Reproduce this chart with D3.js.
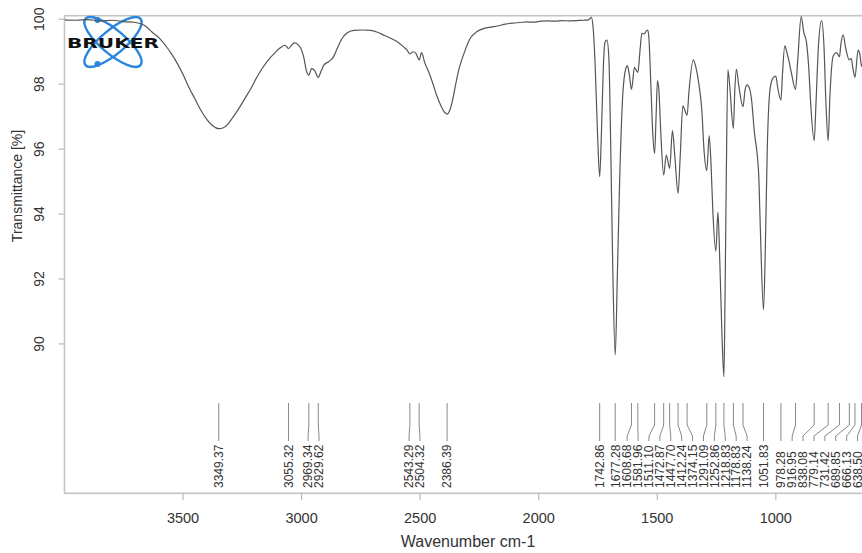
<!DOCTYPE html>
<html><head><meta charset="utf-8">
<script src="https://cdn.jsdelivr.net/npm/d3@7"></script>
<style>
html,body{margin:0;padding:0;background:#fff;overflow:hidden;}
svg{display:block;font-family:"Liberation Sans",Arial,sans-serif;}
</style></head>
<body>
<svg id="chart" width="862" height="553"></svg>
<script>
// ---- data ----
const wavenumbers = [4000,3950,3900,3850,3800,3750,3700,3660,3630,3600,3575,3550,3525,3500,3475,3450,3425,3400,3375,3350,3330,3310,3290,3265,3240,3215,3190,3165,3140,3115,3090,3070,3055,3045,3030,3015,3000,2990,2980,2969,2958,2945,2930,2918,2905,2885,2865,2850,2830,2810,2780,2740,2710,2680,2650,2620,2595,2570,2555,2543,2530,2518,2504,2494,2480,2465,2450,2430,2410,2395,2386,2375,2362,2350,2335,2315,2290,2260,2230,2200,2170,2140,2110,2080,2050,2020,1990,1960,1930,1900,1870,1840,1810,1790,1778,1770,1762,1752,1742.86,1735,1727,1720,1712,1704,1696,1688,1677.28,1668,1658,1646,1632,1626,1618,1608.68,1596,1590,1581.96,1572,1565,1555,1545,1540,1535,1527,1519,1511.1,1505,1499,1493,1485,1472.87,1462,1447.7,1436,1426,1412.24,1403,1392,1374.15,1366,1348,1338,1324,1312,1303,1291.09,1281,1273,1265,1252.86,1244,1236,1228,1218.83,1214,1209,1202,1195,1178.83,1173,1166,1157,1138.24,1130,1122,1110,1102,1090,1078,1072,1065,1051.83,1044,1036,1025,1013,1000,992,978.28,972,962,954,944,933,916.95,907,893,882,871,861,852,838.08,830,820,807,797,789,779.14,772,758,744,731.42,726,716,705,689.85,682,675,666.13,653,645,638.5,625,603.71,585,565.14,545,522.71,500,482.2,465,449.41,425,400];
const transmittance = [99.98,99.97,99.99,99.95,99.97,99.93,99.9,99.8,99.6,99.42,99.2,98.95,98.65,98.3,97.9,97.55,97.2,96.92,96.72,96.63,96.66,96.78,96.98,97.25,97.55,97.85,98.2,98.5,98.75,98.95,99.12,99.2,99.1,99.18,99.27,99.22,99.05,98.8,98.42,98.28,98.48,98.42,98.21,98.4,98.6,98.7,98.85,99.1,99.4,99.57,99.66,99.67,99.66,99.6,99.5,99.4,99.3,99.15,99.05,98.93,99.0,98.95,98.75,98.97,98.65,98.4,98.1,97.65,97.3,97.12,97.08,97.2,97.55,98.0,98.5,98.95,99.4,99.62,99.72,99.76,99.8,99.85,99.88,99.9,99.92,99.91,99.94,99.95,99.94,99.96,99.95,99.96,99.97,99.98,100.06,99.7,98.6,96.5,95.15,96.6,98.6,99.3,99.36,98.8,96,92.5,89.66,92.2,95.2,97.6,98.5,98.57,98.3,97.84,98.52,98.45,98.36,99.1,99.57,99.55,99.65,99.67,99.4,98,96.5,95.87,97,98.11,97.8,96.5,95.2,95.82,95.41,96.57,95.8,94.64,95.8,97.33,97.05,97.8,98.75,98.55,97.98,97.2,96,95.34,96.41,95.5,94,92.86,94.06,92.5,90.5,88.99,91.5,95,98.44,98.0,96.64,97.8,98.46,98.0,97.31,97.8,97.98,97.85,97.5,96.5,95.8,95.2,93.5,91.05,93,96,97.8,98.18,98.25,97.9,97.51,98.3,99.18,99.0,98.7,98.3,97.84,98.8,100.08,99.6,99.31,98.5,97.3,96.26,97.5,99.2,99.96,99.2,97.5,96.26,97.6,98.87,98.97,98.85,99.2,99.52,99.1,98.75,98.8,98.5,98.21,99.05,98.9,98.55,99.0,98.5,98.9,98.3,98.8,98.6,99.0,98.4,98.9,98.7,99.1];
const peakLabels = ["3349.37","3055.32","2969.34","2929.62","2543.29","2504.32","2386.39","1742.86","1677.28","1608.68","1581.96","1511.10","1472.87","1447.70","1412.24","1374.15","1291.09","1252.86","1218.83","1178.83","1138.24","1051.83","978.28","916.95","838.08","779.14","731.42","689.85","666.13","638.50","603.71","565.14","522.71","482.20","449.41"];
const xTicks = [3500,3000,2500,2000,1500,1000];
const yTicks = [90,92,94,96,98,100];
const xDomain = [4000,400];
const yDomain = [85.4,100.11];
const xTitle = "Wavenumber cm-1";
const yTitle = "Transmittance [%]";

// ---- layout ----
const svg = d3.select("#chart");
const L = 64.5, R = 64.5 + 3600*0.2371, T = 15.7, B = 493.3;
const x = d3.scaleLinear().domain(xDomain).range([L, R]);
const y = d3.scaleLinear().domain(yDomain).range([B, T]);

svg.append("rect").attr("width",862).attr("height",553).attr("fill","#fff");

// box
svg.append("rect").attr("x",L).attr("y",T).attr("width",R-L).attr("height",B-T)
  .attr("fill","none").attr("stroke","#c4c4c4").attr("stroke-width",1.6);

// logo
const logo = svg.append("g");
[40,-40].forEach(a=>{
  logo.append("ellipse").attr("cx",113).attr("cy",42).attr("rx",36).attr("ry",12)
    .attr("transform",`rotate(${a},113,42)`).attr("fill","none")
    .attr("stroke","#2a86dc").attr("stroke-width",2.4);
});
[[97.5,20],[97.5,64]].forEach(p=>logo.append("circle").attr("cx",p[0]).attr("cy",p[1]).attr("r",3).attr("fill","#2a86dc"));
logo.append("text").attr("x",67).attr("y",47.5).attr("font-family","DejaVu Sans")
  .attr("font-weight","bold").attr("font-size",14).attr("textLength",92)
  .attr("lengthAdjust","spacingAndGlyphs").attr("fill","#111").text("BRUKER");

// y axis
const yAxis = svg.append("g");
yTicks.forEach(v=>{
  yAxis.append("line").attr("x1",L-6).attr("x2",L).attr("y1",y(v)).attr("y2",y(v))
    .attr("stroke","#bbb").attr("stroke-width",1.2);
  yAxis.append("text").attr("transform",`translate(44,${y(v)}) rotate(-90)`)
    .attr("text-anchor","middle").attr("font-size",14).attr("fill","#333").text(v);
});
svg.append("text").attr("transform",`translate(22,186) rotate(-90)`)
  .attr("text-anchor","middle").attr("font-size",14).attr("fill","#333").text(yTitle);

// x axis
const xAxis = svg.append("g");
xTicks.forEach(v=>{
  xAxis.append("line").attr("x1",x(v)).attr("x2",x(v)).attr("y1",B).attr("y2",B+7)
    .attr("stroke","#bbb").attr("stroke-width",1.2);
  xAxis.append("text").attr("x",x(v)).attr("y",523).attr("text-anchor","middle")
    .attr("font-size",14.5).attr("fill","#333").text(v);
});
svg.append("text").attr("x",468).attr("y",547).attr("text-anchor","middle")
  .attr("font-size",16).attr("fill","#333").text(xTitle);

// spectrum
const pts = wavenumbers.map((w,i)=>[w,transmittance[i]]);
svg.append("defs").append("clipPath").attr("id","clip").append("rect")
  .attr("x",L).attr("y",T).attr("width",R-L).attr("height",B-T);
svg.append("path").attr("clip-path","url(#clip)")
  .attr("d", d3.line().x(d=>x(d[0])).y(d=>y(d[1])).curve(d3.curveMonotoneX)(pts))
  .attr("fill","none").attr("stroke","#555").attr("stroke-width",1.2);

// peak labels (cluster spreading, kept inside the plot box)
const gap = 10.9, maxX = R - 6;
const peaks = peakLabels.map(s=>({s, px:x(+s)})).sort((a,b)=>a.px-b.px);
const start = c => Math.min(c.sum/c.items.length - (c.items.length-1)*gap/2, maxX - (c.items.length-1)*gap);
const end = c => start(c) + (c.items.length-1)*gap;
const clusters = [];
peaks.forEach(p=>{
  clusters.push({items:[p], sum:p.px});
  while(clusters.length>1){
    const b = clusters[clusters.length-1], a = clusters[clusters.length-2];
    if(start(b) - end(a) < gap){
      clusters.splice(-2,2,{items:a.items.concat(b.items), sum:a.sum+b.sum});
    } else break;
  }
});
clusters.forEach(c=>{
  const n = c.items.length, first = c.items[0].px, last = c.items[n-1].px;
  let s0, step = gap;
  if(n>1 && last-first >= (n-1)*gap && last <= maxX){ s0 = first; step = (last-first)/(n-1); }
  else s0 = start(c);
  c.items.forEach((p,i)=>p.lx = s0 + i*step);
});
const lg = svg.append("g");
peaks.forEach(p=>{
  lg.append("path").attr("d",`M${p.px},403V425L${p.lx},436V441`)
    .attr("fill","none").attr("stroke","#888").attr("stroke-width",1);
  lg.append("text").attr("transform",`translate(${p.lx+4.3},488) rotate(-90)`)
    .attr("font-size",12).attr("fill","#333").text(p.s);
});
</script>
</body></html>
